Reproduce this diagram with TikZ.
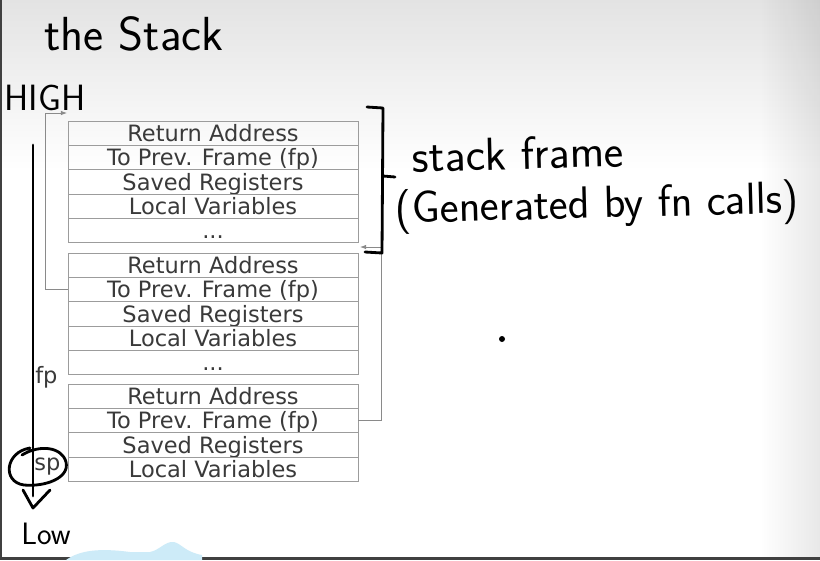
\documentclass[tikz,border=0pt]{standalone}
\usepackage{fontspec}
\usepackage{tikz}
\usetikzlibrary{arrows.meta,positioning,fadings}
\newfontfamily\zellfont{DejaVu Sans}
\definecolor{rand}{HTML}{9C9C9C}
\definecolor{schrift}{HTML}{3A3A3A}
\definecolor{zeiger}{HTML}{8A8A8A}
\definecolor{blau}{HTML}{CDEBF8}
\tikzset{
  zelle/.style={draw=rand,line width=0.6pt,minimum width=7.25cm,minimum height=0.6075cm,
    inner sep=0pt,outer sep=0pt,text height=14.6pt,text depth=2.6pt,text=schrift,
    font=\zellfont\fontsize{16}{18}\selectfont},
  ptr/.style={-{Latex[length=1.5mm,width=1.1mm]},zeiger,line width=0.6pt},
  hand/.style={black,line width=2pt,line cap=round,line join=round},
  handtext/.style={inner sep=0pt,text=black,font=\sffamily\fontsize{#1}{#1}\selectfont},
  lbl/.style={inner sep=0pt,text=schrift,font=\zellfont\fontsize{16}{18}\selectfont},
}

\begin{document}
\begin{tikzpicture}[x=0.025cm,y=-0.025cm,node distance=0pt]
  \useasboundingbox (0,0) rectangle (820,560);
  % background of the screenshot
  \fill[white] (0,0) rectangle (820,560);
  \fill[black,fill opacity=0.11,path fading=south] (0,0) rectangle (820,170);
  \fill[black,fill opacity=0.09,path fading=west] (760,0) rectangle (820,560);
  \fill[black!75] (0,0) rectangle (2,560);
  \fill[black!75] (0,557) rectangle (820,560);
  \fill[blau] (66,560) .. controls (80,550) and (100,548) .. (130,552)
    -- (150,552) .. controls (160,550) and (165,541) .. (174,542)
    .. controls (182,544) and (185,552) .. (202,555) -- (202,560) -- cycle;
  \fill[black] (502,339) circle (3);

  % frame 1
  \node[zelle,anchor=north] (ra1) at (213,121) {Return Address};
  \node[zelle,below=of ra1] (fp1) {To Prev. Frame (fp)};
  \node[zelle,below=of fp1] (sr1) {Saved Registers};
  \node[zelle,below=of sr1] (lv1) {Local Variables};
  \node[zelle,below=of lv1] (dt1) {...};
  % frame 2
  \node[zelle,anchor=north] (ra2) at (213,253) {Return Address};
  \node[zelle,below=of ra2] (fp2) {To Prev. Frame (fp)};
  \node[zelle,below=of fp2] (sr2) {Saved Registers};
  \node[zelle,below=of sr2] (lv2) {Local Variables};
  \node[zelle,below=of lv2] (dt2) {...};
  % frame 3
  \node[zelle,anchor=north] (ra3) at (213,384) {Return Address};
  \node[zelle,below=of ra3] (fp3) {To Prev. Frame (fp)};
  \node[zelle,below=of fp3] (sr3) {Saved Registers};
  \node[zelle,below=of sr3] (lv3) {Local Variables};

  % saved frame pointers
  \coordinate (top1) at (67,113);
  \coordinate (top2) at (360,247);
  \draw[ptr] (fp2.west) -- ++(-23,0) |- (top1);
  \draw[ptr] (fp3.east) -- ++(23,0) |- (top2);

  % hand-drawn marks
  \node[handtext=34] (titel) at (134,34) {the Stack};
  \node[handtext=26] (high) at (45,98) {HIGH};
  \node[handtext=22] (low) at (46,534) {Low};
  \draw[hand] (33,145) -- (33,496);
  \draw[hand] (23,490) -- (33,508) -- (50,490);
  \draw[hand] (30,448) .. controls (5,452) and (2,482) .. (24,485)
    .. controls (45,487) and (70,478) .. (66,462)
    .. controls (62,447) and (40,444) .. (22,455);
  \node[lbl,anchor=west] (sp) at (34,467) {sp};
  \node[lbl,anchor=west] (fp) at (35,377) {fp};

  \draw[hand] (367,107) -- (383,108) -- (382,253) -- (365,252);
  \draw[hand] (383,176) -- (395,177);
  \node[handtext=33,rotate=1.5,anchor=west] (sf) at (412,156) {stack frame};
  \node[handtext=32,rotate=1.5,anchor=west] (gen) at (395,212) {(Generated by fn calls)};
\end{tikzpicture}
\end{document}
